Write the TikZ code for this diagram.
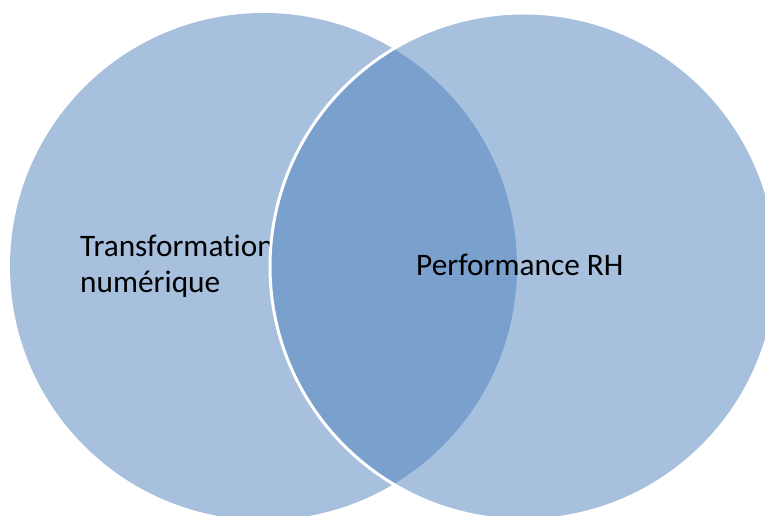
\documentclass[tikz,border=0pt]{standalone}
\usepackage{fontspec}
\setmainfont[Ligatures=NoCommon]{Carlito}
\definecolor{accent}{HTML}{4F81BD}
\begin{document}
\begin{tikzpicture}[x=1bp,y=-1bp,
  setcircle/.style={fill=accent,fill opacity=0.5},
  label/.style={inner sep=0pt,anchor=base west,font=\fontsize{31.3bp}{35.5bp}\selectfont,text=black}]
\useasboundingbox (0,0) rectangle (765,516);
\begin{scope}
\clip (0,0) rectangle (765,516);
\fill[setcircle] (263.5,266.5) circle[radius=253.5];
\node[label] (t1) at (80,257) {Transformation};
\node[label] (t2) at (80,292.5) {numérique};
\draw[setcircle,draw=white,line width=3bp,draw opacity=1] (523.5,266.5) circle[radius=253.5];
\end{scope}
\node[label] (t3) at (416,276) {Performance RH};
\end{tikzpicture}
\end{document}
